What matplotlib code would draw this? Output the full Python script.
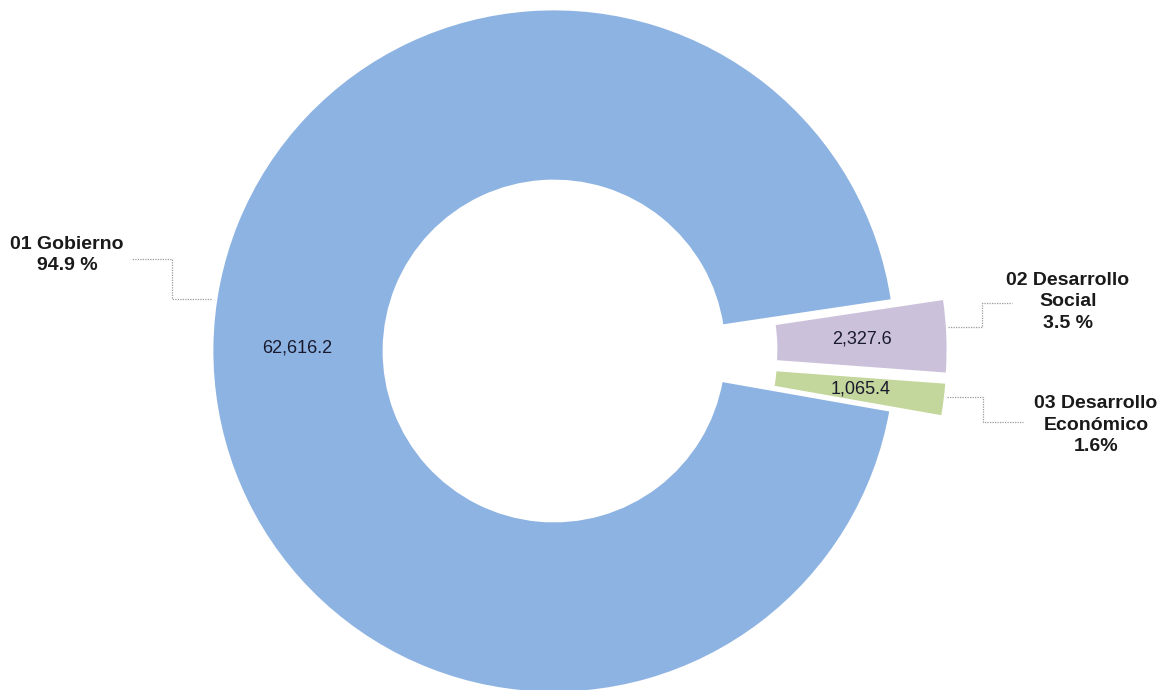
import matplotlib
matplotlib.use("Agg")
import matplotlib.pyplot as plt

# ── Data ──────────────────────────────────────────────────────────────────────
categories = ["01 Gobierno", "02 Desarrollo\nSocial", "03 Desarrollo\nEconómico"]
values = [62616.2, 2327.6, 1065.4]
value_labels = ["62,616.2", "2,327.6", "1,065.4"]
pct_labels = ["94.9 %", "3.5 %", "1.6%"]
colors = ["#8DB3E2", "#CCC1DA", "#C3D69B"]

plt.rcParams["font.family"] = ["Liberation Sans", "DejaVu Sans"]

W, H = 1162, 690
fig = plt.figure(figsize=(W / 100, H / 100), dpi=100)
ax = fig.add_axes([0, 0, 1, 1])

cx, cy = 554, H - 351
R = 342
ring = 172
explode = [0, 52, 52]   # pie offsets are in data units here

it = iter(value_labels)
wedges, texts, autotexts = ax.pie(
    values, colors=colors, explode=explode, startangle=-10, counterclock=False,
    center=(cx, cy), radius=R, autopct=lambda p: next(it), pctdistance=0.75,
    wedgeprops=dict(width=ring, edgecolor="white", linewidth=2),
    textprops=dict(fontsize=13, color="#1a1a2e"),
)

ax.set_xlim(0, W)
ax.set_ylim(0, H)
ax.set_aspect("equal")
ax.axis("off")

# Leader lines (image pixel coords -> data coords)
leader = dict(color="#9a9a9a", linestyle=(0, (1, 1)), linewidth=0.9)
lines = [
    [(211, 299), (172, 299), (172, 259), (132, 259)],
    [(948, 327), (982, 327), (982, 303), (1012, 303)],
    [(947, 397), (983, 397), (983, 422), (1023, 422)],
]
for pts in lines:
    ax.plot([p[0] for p in pts], [H - p[1] for p in pts], **leader)

# Outer category labels
label_pos = [(67, 255), (1068, 302), (1096, 425)]
for (x, y), cat, pct in zip(label_pos, categories, pct_labels):
    ax.text(x, H - y, f"{cat}\n{pct}", ha="center", va="center", fontsize=14,
            fontweight="bold", color="#1a1a1a", linespacing=1.32)

fig.savefig("out.png", dpi=100)
